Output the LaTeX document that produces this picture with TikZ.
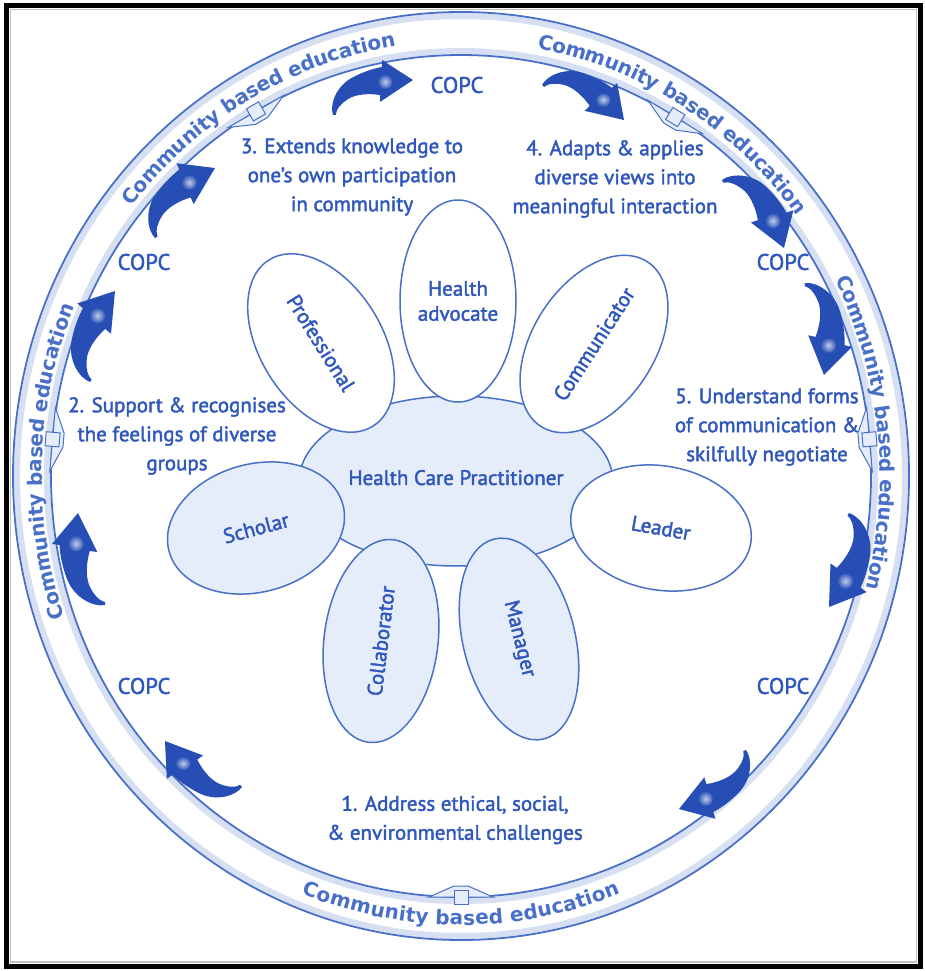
\documentclass[tikz,border=0pt]{standalone}
\usepackage{fontspec}
\setmainfont{PT Sans}[FakeBold=2]
\newfontfamily\ringfamily{DejaVu Sans}
\usepackage{tikz}
\usetikzlibrary{shapes.geometric, decorations.text}

\definecolor{txtblue}{RGB}{48,88,188}
\definecolor{arrowblue}{RGB}{38,78,180}
\definecolor{lineblue}{RGB}{72,112,200}
\definecolor{fillblue}{RGB}{230,237,250}

\newcommand{\ringfont}{\ringfamily\bfseries\fontsize{20}{20}\selectfont}
\newcommand{\stepfont}{\fontsize{21}{29}\selectfont}
\newcommand{\petalfont}{\fontsize{21}{25}\selectfont}
\newcommand{\copcfont}{\fontsize{22.5}{24}\selectfont}

% curved block arrow: tail (#1,#2) -> tip (#3,#4), in picture pixels
\newcommand{\flowarrow}[4]{%
  \pgfmathsetmacro{\arrang}{atan2((#2)-(#4),(#3)-(#1))}%
  \pgfmathsetmacro{\arrlen}{veclen((#3)-(#1),(#2)-(#4))/100}%
  \begin{scope}[shift={(#1,-#2)}, rotate=\arrang, scale=\arrlen]
    \fill[arrowblue] (0,0) .. controls (1,12) and (16,29) .. (38,30.5)
      .. controls (52,31.5) and (65,30) .. (73.4,27.9) -- (76.7,35.1) -- (100,0)
      -- (55.3,-7.9) -- (58.5,-0.6) .. controls (48,6) and (36,10.5) .. (25.6,10.1)
      .. controls (15,9) and (6,5) .. (3,-1) -- cycle;
    \shade[inner color=lineblue!35!white, outer color=arrowblue] (70,11) circle (8);
  \end{scope}}

% joint on the inner edge of the ring at angle #1
\newcommand{\ringjoint}[1]{%
  \begin{scope}[shift={(#1:410 and 421)}, rotate=#1+180]
    \filldraw[fill=fillblue, draw=lineblue, line width=1pt] (0,-32) -- (11,-7) -- (11,7) -- (0,32) -- cycle;
    \filldraw[fill=fillblue, draw=lineblue, line width=1pt] (-7,-7) rectangle (7,7);
  \end{scope}}

\begin{document}
\begin{tikzpicture}[x=1pt, y=1pt,
    petal/.style={ellipse, draw=lineblue, line width=1.5pt, fill=white, text=txtblue, font=\petalfont, inner sep=0pt},
    shadedpetal/.style={petal, fill=fillblue},
    steptext/.style={align=center, text=txtblue, font=\stepfont},
    copc/.style={text=txtblue, font=\copcfont},
    ringtext/.style={decorate, decoration={text along path, text align=center, raise=-7pt,
        text={|\ringfont\color{lineblue}|Community based education}}}]

    \useasboundingbox (0,0) rectangle (925,-971);
    \fill[white] (0,0) rectangle (925,-971);

    % 1. Frame
    \draw[line width=5pt] (6.5,-5.5) rectangle (920.5,-966);
    \draw[gray!50, line width=1.2pt] (10.5,-9.5) rectangle (916.5,-962);

    % 2. Ring with its labels and joints
    \begin{scope}[shift={(461,-476)}]
        \draw[lineblue!22, line width=6pt] (0,0) ellipse[x radius=444, y radius=460];
        \draw[lineblue, line width=1.8pt] (0,0) ellipse[x radius=448, y radius=464];
        \draw[lineblue!22, line width=6pt] (0,0) ellipse[x radius=414, y radius=425];
        \draw[lineblue, line width=1.8pt] (0,0) ellipse[x radius=410, y radius=421];

        \path[ringtext] (165:426 and 442) arc[start angle=165, end angle=75, x radius=426, y radius=442];
        \path[ringtext] (103.5:426 and 442) arc[start angle=103.5, end angle=13.5, x radius=426, y radius=442];
        \path[ringtext] (51:426 and 442) arc[start angle=51, end angle=-39, x radius=426, y radius=442];
        \path[ringtext] (223:426 and 442) arc[start angle=223, end angle=133, x radius=426, y radius=442];
        \path[ringtext] (225:426 and 442) arc[start angle=225, end angle=315, x radius=426, y radius=442];

        \ringjoint{120}
        \ringjoint{58.5}
        \ringjoint{5}
        \ringjoint{175}
        \ringjoint{270}
    \end{scope}

    % 3. Arrows between the steps
    \flowarrow{242}{787}{165}{741}
    \flowarrow{105}{605}{78}{513}
    \flowarrow{90}{382}{115}{291}
    \flowarrow{155}{238}{215}{168}
    \flowarrow{333}{115}{413}{80}
    \flowarrow{542}{85}{624}{120}
    \flowarrow{722}{180}{784}{248}
    \flowarrow{805}{283}{824}{375}
    \flowarrow{849}{513}{829}{607}
    \flowarrow{746}{750}{679}{809}

    % 4. COPC labels
    \foreach \x/\y [count=\i] in {457/85, 144/262, 783/262, 144/686, 783/686}
        \node[copc] (copc\i) at (\x,-\y) {COPC};

    % 5. Steps
    \node[steptext] (step1) at (455,-820) {1. Address ethical, social,\\ \& environmental challenges};
    \node[steptext] (step2) at (177,-436) {2. Support \& recognises\\ the feelings of diverse\\ groups};
    \node[steptext] (step3) at (352,-177) {3. Extends knowledge to\\ one's own participation\\ in community};
    \node[steptext] (step4) at (615,-179) {4. Adapts \& applies\\ diverse views into\\ meaningful interaction};
    \node[steptext] (step5) at (767,-427) {5. Understand forms\\ of communication \&\\ skilfully negotiate};

    % 6. Practitioner and roles
    \node[ellipse, draw=lineblue, line width=1.5pt, fill=fillblue, text=txtblue, font=\petalfont,
        minimum width=268pt, minimum height=170pt] (hcp) at (456,-481) {\raisebox{7pt}{Health Care Practitioner}};
    \node[petal, align=center, minimum width=116pt, minimum height=202pt] (adv) at (458,-301) {Health\\ advocate};
    \node[petal, rotate=-58, minimum width=196pt, minimum height=122pt] (prof) at (321,-343) {Professional};
    \node[petal, rotate=57, minimum width=196pt, minimum height=122pt] (comm) at (594,-344) {Communicator};
    \node[petal, rotate=-10, minimum width=182pt, minimum height=124pt] (lead) at (661,-528) {Leader};
    \node[shadedpetal, rotate=-76, minimum width=206pt, minimum height=112pt] (mgr) at (519,-639) {Manager};
    \node[shadedpetal, rotate=83, minimum width=204pt, minimum height=114pt] (coll) at (381,-641) {Collaborator};
    \node[shadedpetal, rotate=15, minimum width=180pt, minimum height=128pt] (schol) at (256,-528) {Scholar};

\end{tikzpicture}
\end{document}
